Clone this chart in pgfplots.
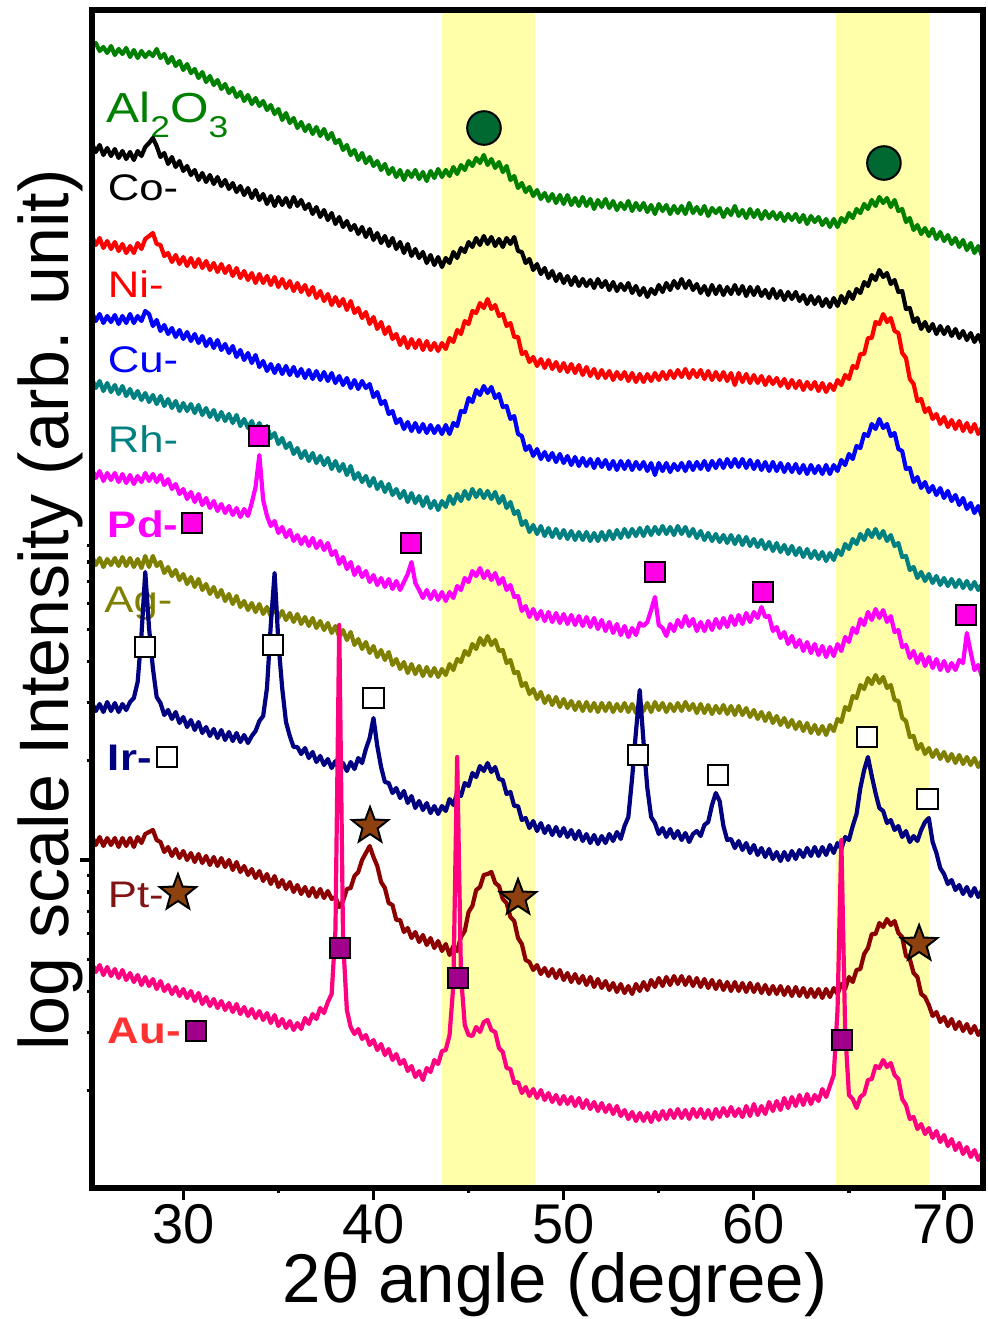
\documentclass[border=0pt]{standalone}
\usepackage{pgfplots}
\pgfplotsset{compat=1.18}
\usepackage{pgfplotstable}
\usepackage{fontspec}
\setmainfont{Liberation Sans}
\newfontfamily\labfont[FakeStretch=1.18]{Liberation Sans}
\definecolor{cAl}{RGB}{0,128,0}
\definecolor{cNi}{RGB}{255,0,0}
\definecolor{cCu}{RGB}{0,0,255}
\definecolor{cRh}{RGB}{0,128,128}
\definecolor{cPd}{RGB}{255,0,255}
\definecolor{cAg}{RGB}{128,128,0}
\definecolor{cIr}{RGB}{0,0,128}
\definecolor{cPt}{RGB}{140,0,0}
\definecolor{cAu}{RGB}{255,0,128}
\definecolor{cAuL}{RGB}{255,50,50}
\definecolor{cPtL}{RGB}{128,20,20}
\definecolor{band}{RGB}{255,255,170}
\definecolor{mGr}{RGB}{0,105,50}
\definecolor{mPd}{RGB}{255,0,230}
\definecolor{mPt}{RGB}{140,65,15}
\definecolor{mAu}{RGB}{160,0,140}
\pgfdeclareplotmark{fstar}{%
  \pgfpathmoveto{\pgfpointpolar{90}{\pgfplotmarksize}}%
  \pgfpathlineto{\pgfpointpolar{126}{0.42\pgfplotmarksize}}%
  \pgfpathlineto{\pgfpointpolar{162}{\pgfplotmarksize}}%
  \pgfpathlineto{\pgfpointpolar{198}{0.42\pgfplotmarksize}}%
  \pgfpathlineto{\pgfpointpolar{234}{\pgfplotmarksize}}%
  \pgfpathlineto{\pgfpointpolar{270}{0.42\pgfplotmarksize}}%
  \pgfpathlineto{\pgfpointpolar{306}{\pgfplotmarksize}}%
  \pgfpathlineto{\pgfpointpolar{342}{0.42\pgfplotmarksize}}%
  \pgfpathlineto{\pgfpointpolar{18}{\pgfplotmarksize}}%
  \pgfpathlineto{\pgfpointpolar{54}{0.42\pgfplotmarksize}}%
  \pgfpathclose
  \pgfusepathqfillstroke
}
% data: x = 25.2 + 0.2*index, y = vertical position (pixels from top, axis reversed)
\pgfplotstableread[row sep=\\]{y\\
47\\43\\51\\47\\53\\ 46\\55\\49\\54\\48\\ 57\\50\\58\\51\\57\\ 52\\56\\49\\58\\54\\ 63\\57\\66\\61\\70\\
64\\73\\69\\78\\72\\ 82\\76\\85\\80\\89\\ 84\\93\\88\\97\\92\\ 101\\95\\104\\98\\106\\ 101\\110\\105\\114\\109\\
120\\113\\123\\118\\128\\ 122\\131\\125\\134\\127\\ 136\\129\\139\\133\\143\\ 140\\150\\145\\155\\150\\ 160\\153\\163\\157\\166\\
161\\170\\164\\174\\168\\ 177\\170\\180\\171\\177\\ 170\\179\\172\\181\\171\\ 178\\169\\177\\170\\176\\ 167\\174\\165\\170\\161\\
166\\158\\163\\155\\165\\ 159\\168\\162\\172\\166\\ 180\\176\\188\\183\\192\\ 187\\196\\190\\199\\193\\ 201\\194\\203\\195\\204\\
195\\205\\198\\206\\197\\ 206\\199\\209\\200\\207\\ 199\\208\\201\\210\\203\\ 209\\201\\211\\203\\210\\ 203\\212\\205\\214\\204\\
211\\205\\214\\206\\213\\ 206\\214\\203\\213\\207\\ 214\\206\\216\\208\\213\\ 208\\217\\209\\215\\206\\ 216\\210\\218\\209\\217\\
210\\219\\211\\218\\212\\ 219\\213\\221\\214\\220\\ 214\\222\\215\\224\\216\\ 222\\217\\225\\219\\227\\ 219\\227\\218\\222\\213\\
218\\209\\213\\204\\209\\ 200\\206\\197\\203\\198\\ 207\\200\\211\\209\\222\\ 218\\230\\225\\234\\228\\ 236\\229\\239\\232\\241\\
235\\244\\238\\247\\240\\ 250\\243\\253\\246\\256\\
}\tAl
\pgfplotstableread[row sep=\\]{y\\
144\\152\\145\\155\\148\\ 156\\149\\158\\151\\159\\ 152\\160\\151\\156\\147\\ 143\\138\\146\\157\\153\\ 164\\157\\167\\161\\171\\
166\\175\\170\\180\\173\\ 182\\175\\184\\177\\186\\ 180\\189\\183\\192\\186\\ 195\\188\\198\\190\\200\\ 194\\204\\196\\206\\197\\
205\\198\\207\\197\\206\\ 200\\209\\204\\214\\207\\ 217\\210\\220\\213\\224\\ 217\\227\\221\\230\\225\\ 234\\227\\237\\229\\240\\
233\\243\\236\\246\\238\\ 249\\242\\253\\244\\256\\ 249\\258\\252\\263\\255\\ 265\\257\\267\\258\\263\\ 252\\258\\248\\252\\242\\
247\\238\\245\\236\\244\\ 237\\246\\239\\247\\238\\ 244\\237\\251\\252\\263\\ 259\\270\\264\\274\\268\\ 278\\271\\281\\274\\283\\
276\\285\\277\\286\\279\\ 286\\280\\288\\279\\287\\ 281\\290\\282\\291\\284\\ 290\\283\\293\\286\\295\\ 288\\297\\289\\294\\285\\
292\\283\\290\\281\\288\\ 279\\288\\281\\290\\284\\ 293\\286\\295\\285\\294\\ 286\\295\\287\\294\\285\\ 294\\286\\296\\287\\295\\
287\\296\\290\\298\\289\\ 298\\291\\300\\292\\299\\ 292\\301\\295\\304\\296\\ 304\\297\\306\\299\\307\\ 298\\306\\296\\303\\292\\
299\\289\\293\\282\\286\\ 275\\280\\270\\277\\273\\ 284\\280\\292\\291\\309\\ 308\\322\\318\\329\\322\\ 331\\324\\334\\326\\334\\
327\\336\\329\\338\\331\\ 340\\333\\342\\335\\344\\
}\tCo
\pgfplotstableread[row sep=\\]{y\\
236\\245\\238\\248\\241\\ 249\\242\\251\\244\\253\\ 246\\253\\243\\249\\239\\ 236\\233\\244\\245\\256\\ 253\\262\\255\\264\\257\\
266\\258\\267\\259\\268\\ 261\\270\\263\\272\\264\\ 273\\266\\276\\268\\278\\ 271\\280\\273\\283\\274\\ 283\\276\\285\\277\\287\\
279\\288\\281\\291\\283\\ 292\\285\\295\\287\\298\\ 291\\301\\294\\305\\297\\ 306\\299\\310\\301\\313\\ 308\\318\\312\\324\\317\\
329\\322\\334\\327\\339\\ 334\\345\\337\\348\\339\\ 348\\340\\350\\341\\350\\ 343\\351\\343\\349\\338\\ 342\\330\\334\\321\\324\\
311\\313\\303\\308\\299\\ 309\\305\\316\\314\\326\\ 323\\337\\337\\354\\352\\ 362\\357\\366\\359\\368\\ 360\\369\\362\\371\\363\\
372\\364\\373\\365\\375\\ 367\\376\\369\\378\\370\\ 378\\371\\380\\372\\379\\ 372\\381\\373\\382\\374\\ 382\\374\\381\\373\\380\\
372\\379\\371\\378\\370\\ 377\\369\\378\\370\\377\\ 370\\379\\371\\380\\372\\ 380\\372\\381\\373\\385\\ 373\\382\\374\\383\\375\\
383\\376\\385\\377\\384\\ 378\\386\\379\\388\\380\\ 388\\381\\390\\382\\389\\ 382\\391\\383\\392\\384\\ 390\\380\\385\\375\\379\\
366\\368\\354\\354\\338\\ 338\\322\\324\\314\\322\\ 318\\331\\333\\353\\358\\ 379\\384\\401\\399\\412\\ 408\\419\\414\\424\\417\\
427\\420\\429\\421\\431\\ 423\\432\\424\\434\\427\\
}\tNi
\pgfplotstableread[row sep=\\]{y\\
313\\321\\314\\323\\316\\ 322\\315\\324\\316\\323\\ 314\\323\\316\\321\\311\\ 314\\326\\320\\331\\325\\ 334\\328\\337\\330\\339\\
332\\341\\334\\343\\336\\ 346\\339\\348\\340\\350\\ 344\\353\\346\\357\\350\\ 360\\353\\363\\355\\367\\ 361\\371\\364\\373\\365\\
374\\366\\375\\367\\376\\ 369\\378\\370\\379\\371\\ 380\\372\\381\\373\\383\\ 376\\385\\378\\388\\380\\ 389\\381\\388\\384\\397\\
392\\404\\401\\414\\411\\ 423\\419\\429\\422\\431\\ 423\\432\\424\\433\\425\\ 433\\426\\434\\425\\434\\ 423\\426\\411\\412\\398\\
402\\390\\395\\386\\393\\ 387\\398\\394\\407\\406\\ 419\\416\\434\\436\\450\\ 446\\456\\449\\459\\452\\ 460\\453\\462\\454\\463\\
456\\465\\457\\466\\458\\ 466\\459\\468\\459\\467\\ 460\\469\\461\\470\\461\\ 469\\461\\470\\462\\469\\ 462\\471\\463\\475\\463\\
471\\463\\472\\464\\470\\ 463\\471\\462\\470\\462\\ 469\\461\\470\\461\\468\\ 460\\468\\459\\467\\459\\ 467\\459\\468\\460\\469\\
461\\470\\462\\471\\462\\ 471\\463\\472\\464\\472\\ 464\\473\\465\\474\\465\\ 473\\466\\474\\465\\474\\ 465\\471\\460\\465\\454\\
459\\446\\448\\434\\436\\ 424\\429\\419\\428\\424\\ 436\\433\\449\\451\\469\\ 468\\482\\477\\488\\482\\ 492\\486\\495\\488\\498\\
491\\501\\495\\505\\498\\ 509\\503\\513\\506\\517\\
}\tCu
\pgfplotstableread[row sep=\\]{y\\
379\\388\\381\\391\\383\\ 392\\385\\394\\386\\396\\ 389\\398\\391\\400\\393\\ 402\\395\\404\\396\\406\\ 399\\408\\401\\411\\403\\
411\\404\\413\\405\\415\\ 408\\417\\410\\420\\412\\ 421\\414\\423\\415\\426\\ 419\\428\\421\\431\\423\\ 433\\426\\438\\433\\444\\
438\\448\\443\\454\\448\\ 458\\451\\461\\453\\463\\ 456\\465\\458\\469\\461\\ 471\\464\\475\\466\\479\\ 473\\482\\476\\486\\478\\
489\\482\\492\\484\\495\\ 489\\498\\491\\502\\493\\ 503\\496\\506\\497\\508\\ 501\\510\\501\\507\\496\\ 504\\494\\501\\491\\499\\
489\\497\\490\\498\\491\\ 499\\492\\503\\496\\508\\ 502\\514\\511\\525\\521\\ 532\\525\\534\\526\\536\\ 528\\537\\529\\538\\530\\
539\\531\\540\\532\\540\\ 532\\541\\533\\541\\532\\ 540\\531\\539\\530\\538\\ 529\\537\\529\\536\\528\\ 536\\527\\535\\527\\534\\
526\\534\\527\\535\\526\\ 534\\527\\536\\529\\538\\ 531\\540\\533\\541\\534\\ 542\\535\\543\\535\\544\\ 536\\545\\537\\546\\539\\
547\\540\\549\\542\\551\\ 543\\552\\545\\554\\546\\ 555\\548\\557\\549\\558\\ 551\\559\\552\\561\\553\\ 560\\550\\555\\544\\549\\
539\\544\\534\\540\\530\\ 537\\529\\538\\531\\541\\ 535\\546\\543\\557\\556\\ 570\\567\\578\\572\\581\\ 574\\583\\576\\585\\578\\
586\\579\\587\\580\\588\\ 581\\589\\582\\590\\584\\
}\tRh
\pgfplotstableread[row sep=\\]{y\\
469\\478\\471\\481\\473\\ 480\\473\\482\\474\\483\\ 475\\484\\476\\482\\473\\ 481\\474\\482\\475\\485\\ 479\\489\\484\\494\\489\\
499\\492\\502\\494\\505\\ 498\\508\\501\\511\\504\\ 513\\506\\515\\508\\517\\ 509\\516\\503\\487\\455\\ 500\\516\\526\\521\\533\\
527\\537\\530\\541\\535\\ 544\\537\\546\\538\\548\\ 541\\550\\543\\555\\551\\ 564\\557\\569\\562\\575\\ 567\\577\\571\\582\\575\\
585\\578\\587\\579\\589\\ 581\\590\\582\\574\\562\\ 583\\590\\598\\590\\599\\ 591\\600\\592\\601\\592\\ 598\\586\\590\\578\\582\\
571\\576\\568\\578\\571\\ 580\\573\\584\\578\\590\\ 585\\597\\596\\611\\606\\ 617\\609\\619\\611\\621\\ 612\\622\\613\\623\\614\\
624\\615\\625\\616\\626\\ 617\\627\\618\\629\\620\\ 631\\622\\633\\624\\635\\ 626\\637\\628\\635\\623\\ 626\\622\\610\\597\\625\\
628\\636\\624\\631\\620\\ 627\\616\\626\\619\\631\\ 622\\631\\621\\630\\619\\ 628\\618\\627\\616\\625\\ 615\\624\\613\\622\\612\\
618\\607\\617\\616\\631\\ 627\\638\\632\\644\\636\\ 647\\640\\651\\642\\653\\ 644\\655\\646\\657\\647\\ 656\\644\\651\\637\\642\\
628\\633\\619\\625\\612\\ 620\\609\\618\\610\\622\\ 616\\632\\630\\647\\645\\ 658\\651\\663\\654\\666\\ 657\\668\\659\\670\\661\\
671\\663\\670\\660\\663\\ 633\\652\\670\\665\\677\\
}\tPd
\pgfplotstableread[row sep=\\]{y\\
556\\565\\558\\567\\559\\ 565\\558\\566\\557\\566\\ 558\\567\\559\\568\\556\\ 567\\556\\566\\562\\573\\ 567\\576\\570\\580\\574\\
584\\577\\587\\579\\590\\ 584\\594\\587\\597\\590\\ 601\\594\\604\\596\\607\\ 601\\610\\603\\612\\604\\ 614\\607\\616\\608\\618\\
611\\620\\613\\622\\614\\ 624\\617\\626\\618\\628\\ 621\\630\\623\\633\\626\\ 637\\630\\640\\632\\645\\ 639\\649\\642\\653\\646\\
657\\650\\660\\652\\665\\ 659\\669\\662\\673\\664\\ 674\\666\\676\\667\\676\\ 668\\677\\669\\675\\664\\ 670\\659\\662\\651\\655\\
644\\649\\638\\645\\636\\ 645\\640\\651\\650\\663\\ 660\\673\\672\\686\\683\\ 694\\689\\699\\692\\703\\ 696\\705\\697\\707\\699\\
708\\701\\710\\702\\711\\ 702\\711\\703\\712\\703\\ 711\\703\\712\\704\\711\\ 703\\712\\704\\713\\702\\ 711\\703\\712\\702\\710\\
703\\712\\704\\711\\703\\ 711\\702\\710\\704\\713\\ 704\\713\\705\\714\\706\\ 713\\705\\714\\706\\715\\ 706\\715\\708\\717\\710\\
719\\712\\721\\713\\723\\ 716\\725\\718\\727\\720\\ 729\\722\\731\\723\\733\\ 725\\734\\726\\735\\725\\ 731\\719\\722\\707\\710\\
696\\698\\685\\689\\678\\ 684\\675\\683\\677\\688\\ 685\\700\\701\\718\\721\\ 737\\736\\749\\744\\754\\ 748\\757\\750\\759\\752\\
761\\754\\763\\755\\764\\ 757\\765\\758\\767\\760\\
}\tAg
\pgfplotstableread[row sep=\\]{y\\
703\\711\\704\\712\\702\\ 711\\703\\712\\704\\710\\ 702\\698\\682\\635\\572\\ 628\\668\\697\\703\\715\\ 710\\719\\712\\723\\717\\
727\\720\\730\\722\\733\\ 727\\736\\729\\738\\730\\ 740\\732\\741\\733\\742\\ 735\\743\\736\\731\\721\\ 716\\688\\625\\573\\642\\
688\\722\\736\\747\\747\\ 754\\748\\758\\752\\762\\ 756\\765\\759\\768\\761\\ 770\\763\\771\\762\\769\\ 758\\763\\749\\738\\718\\
746\\767\\782\\783\\793\\ 788\\798\\791\\803\\796\\ 808\\801\\810\\803\\813\\ 806\\814\\806\\811\\799\\ 805\\793\\796\\783\\786\\
773\\777\\766\\771\\763\\ 772\\767\\779\\780\\794\\ 792\\806\\806\\820\\818\\ 828\\821\\831\\823\\833\\ 826\\835\\827\\836\\828\\
837\\830\\839\\831\\841\\ 834\\843\\835\\844\\836\\ 843\\834\\841\\832\\839\\ 826\\817\\778\\732\\690\\ 742\\788\\817\\823\\834\\
828\\837\\829\\838\\831\\ 840\\833\\842\\834\\831\\ 836\\825\\822\\805\\793\\ 801\\826\\840\\839\\848\\ 841\\850\\843\\853\\845\\
855\\848\\857\\849\\859\\ 852\\861\\852\\860\\851\\ 859\\850\\857\\848\\856\\ 847\\856\\847\\855\\845\\ 853\\843\\849\\837\\840\\
826\\814\\788\\770\\757\\ 776\\793\\808\\811\\823\\ 820\\830\\826\\837\\831\\ 842\\836\\841\\830\\822\\ 818\\842\\853\\868\\874\\
884\\880\\890\\885\\894\\ 887\\896\\888\\897\\890\\
}\tIr
\pgfplotstableread[row sep=\\]{y\\
836\\845\\837\\846\\838\\ 845\\838\\847\\838\\846\\ 838\\847\\837\\843\\834\\ 832\\830\\840\\842\\852\\ 847\\856\\849\\858\\851\\
860\\853\\862\\854\\863\\ 856\\865\\857\\866\\858\\ 867\\860\\870\\862\\872\\ 866\\875\\869\\878\\871\\ 881\\874\\884\\876\\887\\
880\\889\\882\\892\\885\\ 894\\887\\896\\888\\897\\ 889\\898\\891\\899\\897\\ 907\\901\\889\\888\\876\\ 872\\860\\853\\846\\857\\
866\\882\\888\\903\\905\\ 920\\920\\932\\928\\938\\ 932\\942\\935\\945\\938\\ 948\\941\\951\\944\\955\\ 946\\951\\937\\931\\912\\
906\\890\\887\\875\\874\\ 872\\883\\886\\899\\903\\ 917\\921\\938\\944\\960\\ 962\\970\\965\\974\\968\\ 976\\969\\978\\970\\980\\
973\\982\\974\\983\\976\\ 985\\977\\987\\979\\988\\ 981\\990\\983\\992\\984\\ 993\\986\\994\\984\\991\\ 982\\990\\980\\987\\978\\
986\\977\\985\\976\\984\\ 976\\985\\977\\986\\978\\ 987\\979\\988\\980\\989\\ 981\\990\\982\\991\\982\\ 991\\983\\992\\983\\992\\
984\\993\\985\\994\\986\\ 994\\986\\995\\987\\996\\ 987\\996\\988\\997\\989\\ 997\\989\\998\\989\\997\\ 988\\994\\984\\989\\977\\
982\\970\\969\\954\\948\\ 934\\934\\923\\927\\919\\ 925\\921\\933\\937\\956\\ 959\\973\\977\\994\\997\\ 1005\\1016\\1012\\1022\\1017\\
1026\\1019\\1029\\1022\\1031\\ 1024\\1033\\1026\\1035\\1029\\
}\tPt
\pgfplotstableread[row sep=\\]{y\\
963\\972\\965\\975\\967\\ 976\\969\\978\\970\\980\\ 973\\982\\975\\985\\977\\ 986\\979\\989\\981\\991\\ 985\\994\\987\\996\\989\\
998\\991\\1001\\993\\1004\\ 997\\1006\\999\\1008\\1001\\ 1010\\1003\\1012\\1004\\1014\\ 1007\\1016\\1009\\1018\\1011\\ 1020\\1013\\1023\\1015\\1026\\
1019\\1028\\1021\\1030\\1023\\ 1029\\1018\\1024\\1014\\1019\\ 1008\\1013\\1002\\994\\930\\ 625\\940\\1010\\1027\\1034\\ 1029\\1039\\1035\\1045\\1040\\
1050\\1044\\1055\\1049\\1060\\ 1054\\1064\\1060\\1071\\1066\\ 1077\\1071\\1080\\1068\\1072\\ 1060\\1064\\1051\\1050\\1035\\ 985\\757\\975\\1025\\1035\\
1036\\1027\\1032\\1022\\1020\\ 1030\\1032\\1048\\1052\\1068\\ 1069\\1083\\1082\\1093\\1087\\ 1096\\1089\\1098\\1090\\1100\\ 1093\\1102\\1095\\1104\\1096\\
1104\\1097\\1106\\1098\\1108\\ 1100\\1109\\1102\\1111\\1103\\ 1112\\1105\\1114\\1106\\1116\\ 1110\\1119\\1112\\1121\\1113\\ 1121\\1113\\1122\\1112\\1120\\
1111\\1119\\1110\\1118\\1109\\ 1118\\1110\\1119\\1109\\1117\\ 1109\\1118\\1110\\1119\\1109\\ 1117\\1108\\1116\\1107\\1116\\ 1109\\1117\\1106\\1116\\1104\\
1115\\1106\\1114\\1102\\1111\\ 1101\\1110\\1098\\1108\\1097\\ 1106\\1095\\1105\\1094\\1104\\ 1095\\1101\\1089\\1097\\1086\\ 1075\\1010\\840\\1030\\1095\\
1099\\1108\\1097\\1094\\1080\\ 1079\\1066\\1068\\1060\\1067\\ 1063\\1075\\1079\\1099\\1105\\ 1119\\1117\\1129\\1124\\1134\\ 1128\\1138\\1131\\1142\\1135\\
1146\\1139\\1150\\1143\\1154\\ 1147\\1157\\1150\\1160\\1153\\
}\tAu
\newcommand{\tl}{\fontsize{28}{28}\selectfont}
\newcommand{\lab}{\labfont\fontsize{18.5}{18.5}\selectfont}
\begin{document}
\begin{tikzpicture}
\begin{axis}[
  scale only axis, width=445.5pt, height=589pt,
  xmin=25.2, xmax=72.05, ymin=10, ymax=1188, y dir=reverse,
  axis on top, clip=false,
  axis line style={line width=2.8pt, line cap=rect},
  tick align=outside, tick pos=left,
  xtick={30,40,50,60,70}, minor xtick={35,45,55,65},
  ytick={860},
  minor ytick={545.1,562.0,581.1,603.2,629.4,661.3,702.5,760.7,875.1,892.0,911.1,933.2,959.3,991.3,1032.5,1090.7},
  xticklabels={}, yticklabels={},
  major tick length=6pt, minor tick length=2.6pt,
  every tick/.append style={line width=1.6pt, black},
  every minor tick/.append style={line width=1.6pt, black},
  every major tick/.append style={line width=1.6pt, black},
]
\addplot[draw=none, fill=band, forget plot] coordinates {(43.59,10) (48.5,10) (48.5,1188) (43.59,1188)};
\addplot[draw=none, fill=band, forget plot] coordinates {(64.3,10) (69.2,10) (69.2,1188) (64.3,1188)};

\node[anchor=base west, inner sep=0, text=cAl] at (axis cs:25.936,122) {\labfont\fontsize{21}{21}\selectfont Al\raisebox{-0.36em}{\fontsize{15}{15}\selectfont 2}O\raisebox{-0.36em}{\fontsize{15}{15}\selectfont 3}};
\node[anchor=base west, inner sep=0, text=black] at (axis cs:26.015,200) {\lab Co-};
\node[anchor=base west, inner sep=0, text=cNi] at (axis cs:26.015,297) {\lab Ni-};
\node[anchor=base west, inner sep=0, text=cCu] at (axis cs:26.015,372) {\lab Cu-};
\node[anchor=base west, inner sep=0, text=cRh] at (axis cs:26.015,452) {\lab Rh-};
\node[anchor=base west, inner sep=0, text=cPd] at (axis cs:26.015,537) {\lab\bfseries Pd-};
\node[anchor=base west, inner sep=0, text=cAg] at (axis cs:25.83,612) {\lab Ag-};
\node[anchor=base west, inner sep=0, text=cIr] at (axis cs:26.015,770) {\lab\bfseries Ir-};
\node[anchor=base west, inner sep=0, text=cPtL] at (axis cs:26.015,907) {\lab Pt-};
\node[anchor=base west, inner sep=0, text=cAuL] at (axis cs:26.015,1043) {\lab\bfseries Au-};

\addplot[cAl, line width=2.1pt, line join=round] table[x expr={25.2+0.2*\coordindex}, y=y]{\tAl};
\addplot[black, line width=2.1pt, line join=round] table[x expr={25.2+0.2*\coordindex}, y=y]{\tCo};
\addplot[cNi, line width=2.1pt, line join=round] table[x expr={25.2+0.2*\coordindex}, y=y]{\tNi};
\addplot[cCu, line width=2.1pt, line join=round] table[x expr={25.2+0.2*\coordindex}, y=y]{\tCu};
\addplot[cRh, line width=2.1pt, line join=round] table[x expr={25.2+0.2*\coordindex}, y=y]{\tRh};
\addplot[cPd, line width=2.1pt, line join=round] table[x expr={25.2+0.2*\coordindex}, y=y]{\tPd};
\addplot[cAg, line width=2.1pt, line join=round] table[x expr={25.2+0.2*\coordindex}, y=y]{\tAg};
\addplot[cIr, line width=2.1pt, line join=round] table[x expr={25.2+0.2*\coordindex}, y=y]{\tIr};
\addplot[cPt, line width=2.1pt, line join=round] table[x expr={25.2+0.2*\coordindex}, y=y]{\tPt};
\addplot[cAu, line width=2.1pt, line join=round] table[x expr={25.2+0.2*\coordindex}, y=y]{\tAu};

\addplot[only marks, mark=*, mark size=8.4pt, mark options={fill=mGr, draw=black, line width=1pt}] coordinates {(45.81,128) (66.84,163)};
\addplot[only marks, mark=square*, mark size=5.2pt, mark options={fill=mPd, draw=black, line width=1pt}] coordinates {(30.46,523) (33.98,436) (41.97,543) (54.80,572) (60.48,592) (71.16,615)};
\addplot[only marks, mark=square*, mark size=5.2pt, mark options={fill=white, draw=black, line width=1pt}] coordinates {(29.14,757) (27.99,647) (34.72,645) (39.98,698) (53.91,755) (58.12,775) (65.95,737) (69.11,799)};
\addplot[only marks, mark=fstar, mark size=9.5pt, mark options={fill=mPt, draw=black, line width=1pt}] coordinates {(29.72,893) (39.82,826) (47.60,898) (68.69,944)};
\addplot[only marks, mark=square*, mark size=5.2pt, mark options={fill=mAu, draw=black, line width=1pt}] coordinates {(30.67,1031) (38.24,948) (44.44,978) (64.64,1040)};

\node[anchor=base, inner sep=0] at (axis cs:30,1243) {\tl 30};
\node[anchor=base, inner sep=0] at (axis cs:40,1243) {\tl 40};
\node[anchor=base, inner sep=0] at (axis cs:50,1243) {\tl 50};
\node[anchor=base, inner sep=0] at (axis cs:60,1243) {\tl 60};
\node[anchor=base, inner sep=0] at (axis cs:70,1243) {\tl 70};
\node[anchor=base, inner sep=0] at (axis cs:49.55,1302) {\fontsize{34.5}{34.5}\selectfont 2θ angle (degree)};
\node[anchor=base, inner sep=0, rotate=90] at (axis cs:23.938,610) {\fontsize{35}{35}\selectfont log scale Intensity (arb. unit)};

\coordinate (BL) at (axis cs:20.362,1319);
\coordinate (TR) at (axis cs:72.26,0);
\end{axis}
\pgfresetboundingbox
\path[use as bounding box] (BL) rectangle (TR);
\end{tikzpicture}
\end{document}
